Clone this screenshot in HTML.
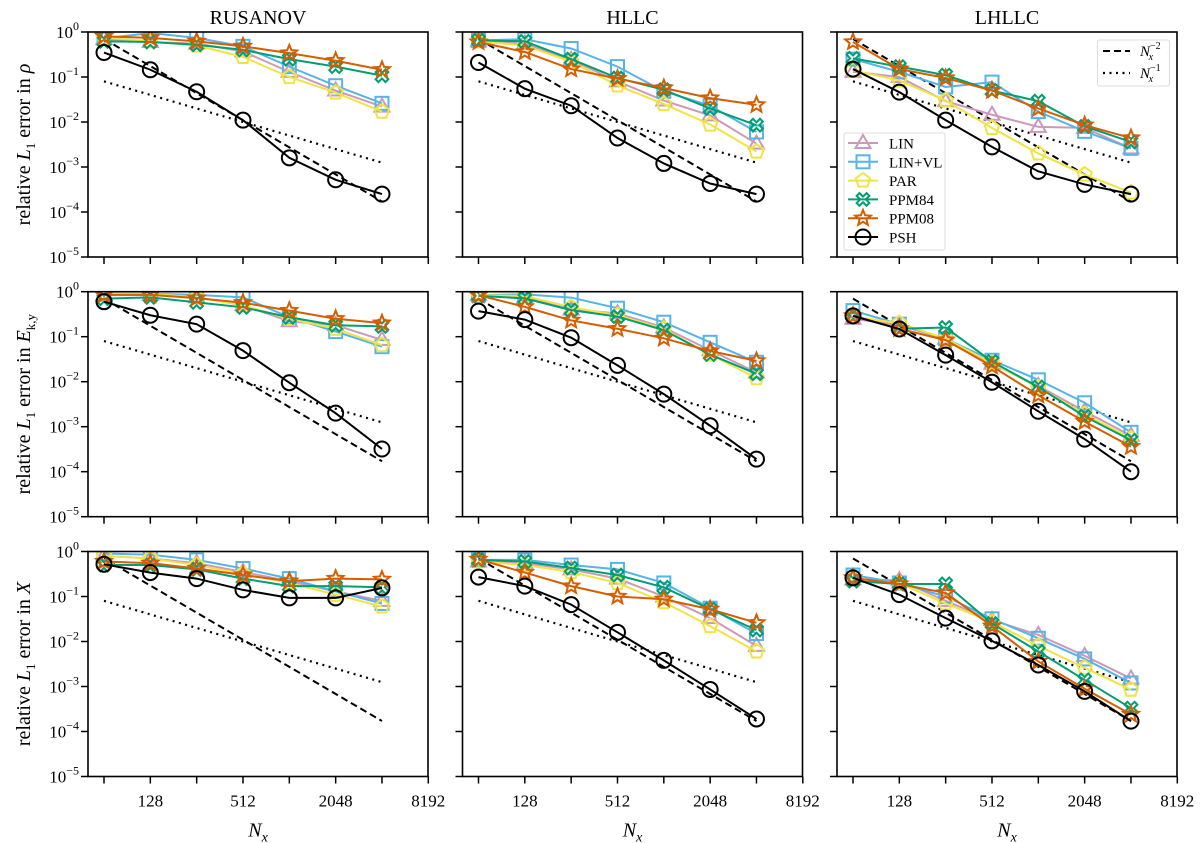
<!DOCTYPE html>
<html><head><meta charset="utf-8"><style>
html,body{margin:0;padding:0;background:#fff}
svg{display:block;font-family:"Liberation Serif","DejaVu Serif",serif}
</style></head><body>
<svg id="fig" width="1200" height="843" viewBox="0 0 1200 843" xmlns="http://www.w3.org/2000/svg"></svg>
<script>
const NX = [64,128,256,512,1024,2048,4096];
const SERIES = ["LIN","LIN+VL","PAR","PPM84","PPM08","PSH"];
const COLORS = ["#CC99BB","#56B4E9","#F0E442","#009E73","#D55E00","#000000"];
const XTICKS = [64,128,256,512,1024,2048,4096,8192];
const XTICK_LABELS = ["","128","","512","","2048","","8192"];
const YTICKS = [0,-1,-2,-3,-4,-5];
const COL_TITLES = ["RUSANOV","HLLC","LHLLC"];
const ROW_QTY = ["ρ","E","X"];
const REF2_START = 0.7;
const REF1_START = 0.08;
// series order: LIN, LIN+VL, PAR, PPM84, PPM08, PSH
const RUS_RHO = [
 [0.7,0.6,0.55,0.37,0.13,0.05,0.022],
 [0.72,0.95,0.74,0.48,0.17,0.064,0.026],
 [0.75,0.62,0.5,0.28,0.1,0.045,0.017],
 [0.62,0.6,0.52,0.4,0.25,0.17,0.107],
 [0.8,0.74,0.62,0.48,0.34,0.23,0.145],
 [0.35,0.145,0.047,0.011,0.0016,0.00052,0.00025]];
const HLLC_RHO = [
 [0.62,0.55,0.24,0.08,0.03,0.014,0.0033],
 [0.65,0.69,0.43,0.17,0.048,0.023,0.006],
 [0.62,0.5,0.22,0.065,0.025,0.0088,0.0022],
 [0.65,0.62,0.25,0.095,0.052,0.02,0.0085],
 [0.6,0.36,0.15,0.092,0.057,0.034,0.024],
 [0.21,0.055,0.023,0.0044,0.0012,0.00043,0.00025]];
const LHLLC_RHO = [
 [0.13,0.1,0.029,0.0145,0.0078,0.0074,0.0026],
 [0.25,0.13,0.06,0.077,0.017,0.0062,0.0026],
 [0.14,0.084,0.03,0.0074,0.002,0.00068,0.00027],
 [0.26,0.17,0.11,0.05,0.029,0.008,0.0036],
 [0.6,0.15,0.095,0.05,0.02,0.0085,0.0044],
 [0.15,0.046,0.011,0.0028,0.0008,0.00041,0.00025]];
const RUS_E = [
 [0.85,0.85,0.75,0.5,0.22,0.18,0.085],
 [0.9,0.9,0.85,0.75,0.27,0.13,0.06],
 [0.9,0.9,0.75,0.5,0.25,0.15,0.065],
 [0.7,0.75,0.58,0.45,0.27,0.18,0.17],
 [0.85,0.85,0.72,0.57,0.38,0.25,0.2],
 [0.6,0.3,0.19,0.049,0.0095,0.002,0.00032]];
const HLLC_E = [
 [0.84,0.75,0.4,0.33,0.16,0.05,0.016],
 [0.84,0.87,0.74,0.43,0.21,0.075,0.027],
 [0.84,0.8,0.45,0.3,0.15,0.04,0.012],
 [0.81,0.71,0.39,0.28,0.14,0.04,0.015],
 [0.84,0.46,0.23,0.15,0.092,0.048,0.029],
 [0.37,0.24,0.095,0.023,0.0053,0.00105,0.00019]];
const LHLLC_E = [
 [0.25,0.18,0.09,0.025,0.008,0.0022,0.00063],
 [0.38,0.19,0.09,0.03,0.011,0.0034,0.00075],
 [0.28,0.2,0.09,0.026,0.0075,0.0019,0.00055],
 [0.29,0.15,0.16,0.028,0.0076,0.0017,0.0005],
 [0.29,0.15,0.084,0.022,0.005,0.0013,0.00036],
 [0.29,0.148,0.039,0.0097,0.0022,0.00053,0.0001]];
const RUS_X = [
 [0.8,0.7,0.55,0.35,0.22,0.13,0.08],
 [0.9,0.85,0.65,0.42,0.25,0.13,0.07],
 [0.8,0.7,0.5,0.32,0.2,0.11,0.06],
 [0.5,0.5,0.4,0.25,0.17,0.17,0.16],
 [0.6,0.55,0.42,0.3,0.22,0.25,0.24],
 [0.52,0.34,0.25,0.14,0.093,0.093,0.155]];
const HLLC_X = [
 [0.6,0.55,0.4,0.25,0.1,0.033,0.008],
 [0.65,0.65,0.5,0.4,0.2,0.055,0.015],
 [0.6,0.5,0.35,0.2,0.075,0.022,0.006],
 [0.65,0.6,0.43,0.3,0.16,0.052,0.018],
 [0.67,0.34,0.17,0.1,0.087,0.052,0.026],
 [0.27,0.17,0.066,0.016,0.0038,0.00086,0.00019]];
const LHLLC_X = [
 [0.24,0.23,0.08,0.03,0.014,0.0048,0.0015],
 [0.3,0.2,0.1,0.032,0.0118,0.0041,0.0012],
 [0.24,0.2,0.07,0.027,0.008,0.0026,0.00085],
 [0.22,0.19,0.19,0.025,0.006,0.0014,0.00033],
 [0.26,0.19,0.12,0.022,0.0036,0.00089,0.00024],
 [0.26,0.11,0.033,0.0103,0.003,0.00078,0.00017]];
const PANELS = [[RUS_RHO,HLLC_RHO,LHLLC_RHO],[RUS_E,HLLC_E,LHLLC_E],[RUS_X,HLLC_X,LHLLC_X]];

const NS="http://www.w3.org/2000/svg";
const svg=document.getElementById('fig');
function mk(tag,attrs,parent){const e=document.createElementNS(NS,tag);for(const k in attrs)e.setAttribute(k,attrs[k]);(parent||svg).appendChild(e);return e;}
const COL_LEFT=[88,462.5,837], ROW_TOP=[32,291.7,551.5], W=340, H=225;
function xScale(c,n){return COL_LEFT[c]+16+(Math.log2(n)-6)*46.33;}
function yScale(r,v){return ROW_TOP[r]-Math.log10(v)*45;}

function markerShape(i,cx,cy,col,g){
  const st={fill:'none',stroke:col,'stroke-width':2};
  let p;
  if(i===0){p=mk('polygon',Object.assign({points:`${cx},${cy-8} ${cx+7.5},${cy+5} ${cx-7.5},${cy+5}`},st),g);}
  else if(i===1){p=mk('rect',Object.assign({x:cx-6.5,y:cy-6.5,width:13,height:13},st),g);}
  else if(i===2){let pts=[];for(let k=0;k<5;k++){const a=-Math.PI/2+k*2*Math.PI/5;pts.push((cx+7.5*Math.cos(a)).toFixed(2)+','+(cy+7.5*Math.sin(a)).toFixed(2));}p=mk('polygon',Object.assign({points:pts.join(' ')},st),g);}
  else if(i===3){const a=2,L=7;const base=[[a,a],[a,L],[-a,L],[-a,a],[-L,a],[-L,-a],[-a,-a],[-a,-L],[a,-L],[a,-a],[L,-a],[L,a]];const c=Math.SQRT1_2;p=mk('polygon',Object.assign({points:base.map(([x,y])=>((cx+(x-y)*c).toFixed(2)+','+(cy+(x+y)*c).toFixed(2))).join(' ')},st),g);}
  else if(i===4){let pts=[];for(let k=0;k<10;k++){const r=k%2?3.6:8.2;const a=-Math.PI/2+k*Math.PI/5;pts.push((cx+r*Math.cos(a)).toFixed(2)+','+(cy+r*Math.sin(a)).toFixed(2));}p=mk('polygon',Object.assign({points:pts.join(' ')},st),g);}
  else {p=mk('circle',Object.assign({cx:cx,cy:cy,r:7.5},st),g);}
  return p;
}

// titles
COL_TITLES.forEach((t,c)=>{
  const e=mk('text',{x:COL_LEFT[c]+W/2,y:24,'text-anchor':'middle','font-size':20});
  e.textContent=t;
  
  
});

for(let r=0;r<3;r++){
  for(let c=0;c<3;c++){
    const g=mk('g',{});
    
    
    const L=COL_LEFT[c],T=ROW_TOP[r];
    const cp='clip'+r+c;
    const cpEl=mk('clipPath',{id:cp},g);mk('rect',{x:L,y:T,width:W,height:H},cpEl);
    const plot=mk('g',{'clip-path':`url(#${cp})`},g);
    // reference lines
    const x0=xScale(c,NX[0]),x1=xScale(c,NX[6]);
    const ratio=NX[6]/NX[0];
    const d2=mk('line',{x1:x0,y1:yScale(r,REF2_START),x2:x1,y2:yScale(r,REF2_START/ratio/ratio),stroke:'#000','stroke-width':2,'stroke-dasharray':'7,4'},plot);
    
    
    const d1=mk('line',{x1:x0,y1:yScale(r,REF1_START),x2:x1,y2:yScale(r,REF1_START/ratio),stroke:'#000','stroke-width':2.2,'stroke-dasharray':'2,4.5'},plot);
    
    
    const data=PANELS[r][c];
    data.forEach((vals,si)=>{
      const sg=mk('g',{},plot);
      
      
      const pts=vals.map((v,k)=>xScale(c,NX[k]).toFixed(2)+','+yScale(r,v).toFixed(2)).join(' ');
      mk('polyline',{points:pts,fill:'none',stroke:COLORS[si],'stroke-width':2},sg);
      vals.forEach((v,k)=>{
        const m=markerShape(si,xScale(c,NX[k]),yScale(r,v),COLORS[si],sg);
        
        
      });
    });
    // frame
    mk('rect',{x:L,y:T,width:W,height:H,fill:'none',stroke:'#000','stroke-width':1.6},g);
    // y ticks
    YTICKS.forEach(e=>{
      const y=yScale(r,Math.pow(10,e));
      mk('line',{x1:L-7,y1:y,x2:L,y2:y,stroke:'#000','stroke-width':1.5},g);
      if(c===0){
        const t=mk('text',{x:L-9,y:y+6,'text-anchor':'end','font-size':17},g);
        
        
        const a=mk('tspan',{},t);a.textContent='10';
        const b=mk('tspan',{dy:-8,'font-size':12},t);b.textContent=(e===0?'0':'−'+(-e));
      }
    });
    // x ticks
    XTICKS.forEach((n,k)=>{
      const x=xScale(c,n);
      mk('line',{x1:x,y1:T+H,x2:x,y2:T+H+7,stroke:'#000','stroke-width':1.5},g);
      if(r===2&&XTICK_LABELS[k]){
        const t=mk('text',{x:x,y:T+H+30,'text-anchor':'middle','font-size':17},g);
        t.textContent=XTICK_LABELS[k];
        
        
      }
    });
    if(r===2){
      const t=mk('text',{x:L+W/2,y:T+H+60,'text-anchor':'middle','font-size':20,'font-style':'italic'},g);
      
      
      const a=mk('tspan',{},t);a.textContent='N';
      const b=mk('tspan',{dy:5,'font-size':14},t);b.textContent='x';
    }
    if(c===0){
      const cy=T+H/2;
      const t=mk('text',{x:0,y:0,'text-anchor':'middle','font-size':20,transform:`translate(30,${cy}) rotate(-90)`},g);
      
      
      const a=mk('tspan',{},t);a.textContent='relative ';
      const b=mk('tspan',{'font-style':'italic'},t);b.textContent='L';
      const s=mk('tspan',{dy:5,'font-size':13},t);s.textContent='1';
      const d=mk('tspan',{dy:-5},t);d.textContent=' error in ';
      const q=mk('tspan',{'font-style':'italic'},t);q.textContent=(r===1?'E':ROW_QTY[r]);
      if(r===1){const s2=mk('tspan',{dy:5,'font-size':13},t);s2.textContent='k,y';}
    }
  }
}

// legend: reference lines
const lg1=mk('g',{});


mk('rect',{x:1097.5,y:40,width:72,height:46,rx:2,fill:'#fff',stroke:'#ddd','stroke-width':1},lg1);
mk('line',{x1:1103,y1:51,x2:1130,y2:51,stroke:'#000','stroke-width':2,'stroke-dasharray':'7,4'},lg1);
mk('line',{x1:1103,y1:73,x2:1130,y2:73,stroke:'#000','stroke-width':2.2,'stroke-dasharray':'2,4.5'},lg1);
[['−2',56],['−1',78]].forEach(([ex,y])=>{
  const t=mk('text',{x:1140,y:y,'font-size':15,'font-style':'italic'},lg1);
  
  
  const a=mk('tspan',{},t);a.textContent='N';
  const b=mk('tspan',{dy:-7,'font-size':10,'font-style':'normal'},t);b.textContent=ex;
  const c=mk('tspan',{dx:-12,dy:11,'font-size':10},t);c.textContent='x';
});
// legend: series
const lg2=mk('g',{});


mk('rect',{x:844,y:133,width:101,height:117,rx:2,fill:'#fff','fill-opacity':0.85,stroke:'#ddd','stroke-width':1},lg2);
SERIES.forEach((s,i)=>{
  const y=143+i*18.8;
  const eg=mk('g',{},lg2);
  
  
  mk('line',{x1:848,y1:y,x2:878,y2:y,stroke:COLORS[i],'stroke-width':2},eg);
  markerShape(i,863,y,COLORS[i],eg);
  const t=mk('text',{x:889,y:y+5.5,'font-size':15},eg);
  t.textContent=s;
});
</script>
</body></html>
